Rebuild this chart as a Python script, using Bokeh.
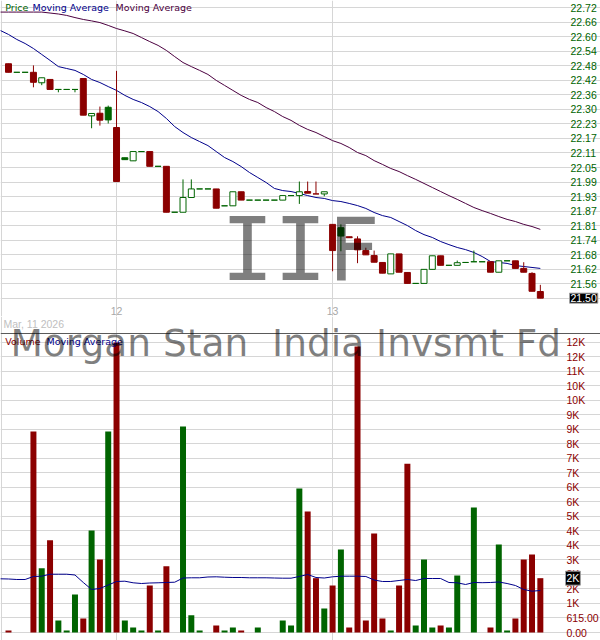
import numpy as np
from bokeh.plotting import figure
from bokeh.layouts import column
from bokeh.models import Range1d, FixedTicker, Label, Grid
from bokeh.embed import file_html
from bokeh.resources import INLINE

# ---------------- data (15-minute bars) ----------------
opens = [22.485, 22.449, 22.449, 22.449, 22.405, 22.419, 22.377, 22.377, 22.377, 22.423,
         22.266, 22.277, 22.302, 22.217, 22.090, 22.077, 22.116, 22.116, 22.054, 22.054,
         21.861, 21.861, 21.923, 21.959, 21.959, 21.959, 21.888, 21.888, 21.947, 21.912,
         21.912, 21.912, 21.912, 21.912, 21.931, 21.931, 21.948, 21.938, 21.938, 21.810,
         21.796, 21.758, 21.749, 21.700, 21.679, 21.650, 21.602, 21.686, 21.608, 21.562,
         21.562, 21.621, 21.678, 21.638, 21.638, 21.650, 21.653, 21.653, 21.653, 21.609,
         21.657, 21.657, 21.625, 21.604, 21.528]
closes = [22.449, 22.449, 22.449, 22.407, 22.426, 22.377, 22.377, 22.377, 22.377, 22.269,
          22.276, 22.248, 22.249, 21.990, 22.082, 22.116, 22.116, 22.054, 22.054, 21.861,
          21.861, 21.923, 21.959, 21.959, 21.959, 21.878, 21.888, 21.947, 21.912, 21.912,
          21.912, 21.912, 21.912, 21.931, 21.931, 21.947, 21.941, 21.938, 21.947, 21.700,
          21.761, 21.754, 21.703, 21.682, 21.651, 21.605, 21.686, 21.609, 21.562, 21.562,
          21.621, 21.678, 21.638, 21.638, 21.649, 21.650, 21.653, 21.653, 21.609, 21.657,
          21.657, 21.625, 21.609, 21.529, 21.500]
highs = [22.485, 22.449, 22.449, 22.478, 22.426, 22.419, 22.377, 22.377, 22.377, 22.423,
         22.276, 22.305, 22.309, 22.455, 22.090, 22.116, 22.116, 22.116, 22.054, 22.054,
         21.861, 21.999, 21.999, 21.959, 21.959, 21.959, 21.888, 21.947, 21.947, 21.912,
         21.912, 21.912, 21.912, 21.931, 21.931, 21.990, 21.990, 21.990, 21.947, 21.810,
         21.810, 21.758, 21.760, 21.712, 21.700, 21.650, 21.686, 21.686, 21.608, 21.562,
         21.621, 21.678, 21.678, 21.638, 21.658, 21.650, 21.700, 21.653, 21.653, 21.657,
         21.657, 21.657, 21.651, 21.609, 21.556]
lows = [22.449, 22.449, 22.449, 22.386, 22.395, 22.377, 22.365, 22.377, 22.365, 22.269,
        22.214, 22.225, 22.234, 21.990, 22.082, 22.077, 22.116, 22.054, 22.054, 21.861,
        21.861, 21.861, 21.923, 21.959, 21.959, 21.878, 21.888, 21.888, 21.912, 21.912,
        21.912, 21.912, 21.912, 21.912, 21.931, 21.896, 21.941, 21.938, 21.928, 21.613,
        21.697, 21.754, 21.647, 21.682, 21.651, 21.605, 21.602, 21.609, 21.562, 21.562,
        21.562, 21.621, 21.638, 21.638, 21.638, 21.650, 21.653, 21.653, 21.609, 21.609,
        21.657, 21.625, 21.609, 21.529, 21.500]
prior_close = 22.50

volumes = [85, 0, 0, 8524, 2728, 3915, 509, 85, 1612, 594,
           4326, 3096, 8524, 12300, 509, 212, 85, 1993, 85, 2812,
           0, 8736, 734, 85, 0, 297, 85, 212, 85, 0,
           212, 0, 0, 509, 297, 6107, 5132, 2304, 1018, 1993,
           3520, 212, 12129, 509, 4199, 594, 85, 1993, 7155, 297,
           3096, 212, 297, 212, 2417, 0, 5301, 0, 212, 3732,
           85, 594, 3096, 3308, 2304]

# moving averages start one bar before the first visible candle
ma_fast = [22.625, 22.608, 22.587, 22.570, 22.549, 22.524, 22.499, 22.473, 22.465, 22.457,
           22.440, 22.419, 22.406, 22.389, 22.373, 22.352, 22.335, 22.322, 22.305, 22.284,
           22.255, 22.221, 22.196, 22.175, 22.158, 22.141, 22.116, 22.091, 22.074, 22.053,
           22.028, 22.007, 21.986, 21.961, 21.952, 21.948, 21.940, 21.931, 21.923, 21.919,
           21.910, 21.906, 21.898, 21.889, 21.877, 21.860, 21.847, 21.839, 21.822, 21.805,
           21.784, 21.767, 21.755, 21.738, 21.725, 21.713, 21.704, 21.692, 21.675, 21.654,
           21.650, 21.646, 21.637, 21.633, 21.629, 21.625]
ma_slow = [22.702, 22.702, 22.702, 22.702, 22.702, 22.702, 22.698, 22.694, 22.688, 22.679,
           22.671, 22.665, 22.658, 22.646, 22.633, 22.623, 22.612, 22.595, 22.578, 22.562,
           22.541, 22.515, 22.490, 22.473, 22.457, 22.440, 22.415, 22.394, 22.373, 22.352,
           22.335, 22.322, 22.301, 22.284, 22.263, 22.247, 22.226, 22.209, 22.196, 22.179,
           22.162, 22.150, 22.133, 22.112, 22.099, 22.078, 22.062, 22.045, 22.032, 22.015,
           21.999, 21.982, 21.965, 21.948, 21.931, 21.915, 21.898, 21.881, 21.868, 21.856,
           21.843, 21.831, 21.822, 21.810, 21.801, 21.789]
vol_ma = [2277, 2269, 2248, 2248, 2375, 2388, 2472, 2472, 2472, 2439,
          2121, 1824, 1866, 2014, 2163, 2176, 2108, 2078, 2099, 2108,
          2121, 2133, 2311, 2320, 2320, 2354, 2362, 2345, 2333, 2333,
          2320, 2320, 2320, 2311, 2303, 2303, 2375, 2460, 2333, 2311,
          2362, 2388, 2388, 2388, 2375, 2226, 2163, 2163, 2205, 2248,
          2205, 2290, 2290, 2290, 2121, 2108, 2036, 2121, 2112, 2121,
          2142, 2078, 1993, 1824, 1752, 1781]

session_starts = [13, 39]
session_labels = ["12", "13"]
date_label = "Mar, 11 2026"
price_tick_labels = ["21.50", "21.56", "21.62", "21.68", "21.74", "21.81", "21.87", "21.93",
                     "21.99", "22.05", "22.11", "22.17", "22.23", "22.30", "22.36", "22.42",
                     "22.48", "22.54", "22.60", "22.66", "22.72"]
vol_tick_step = 615.0
vol_tick_labels = ["0.00", "615.00", "1K", "2K", "2K", "3K", "4K", "4K", "5K", "6K", "6K",
                   "7K", "7K", "8K", "9K", "9K", "10K", "10K", "11K", "12K", "12K"]
ticker_symbol = "IIF"
company_name = "Morgan Stan \u00a0India Invsmt Fd"

# ---------------- styling / layout ----------------
RED = "#8b0000"
GREEN = "#006400"
BLUE = "#00008b"
PURPLE = "#4b0040"
GRID = "#d6d6d6"
AXFONT = "Liberation Sans"
AXSIZE = "10.5px"

W = 600
P_H = 316          # price panel: page y 0..316
V_H = 324          # volume panel: page y 316..640
BAR_PX = 8.31      # pixels per 15-minute bar
X0_PX = 8.0        # pixel of first bar
PRICE_PX = 238.0   # pixels per 1.00 of price
P_HI = 22.7507     # price at page top
VOL_PER_PX = 42.41
VOL_ZERO_PY = 632.0
CHART_R = 541      # right edge of chart area
LABEL_X = 570      # price axis labels start
VLABEL_X = 566     # volume axis labels start


def xd(px):
    return (px - X0_PX) / BAR_PX


def yp(py):
    return P_HI - py / PRICE_PX


def yv(py):
    return (VOL_ZERO_PY - py) * VOL_PER_PX


XS, XE = xd(0), xd(W)

idx = list(range(len(opens)))
ma_x = list(range(-1, len(opens)))
colors = []
prev = prior_close
for c in closes:
    colors.append(RED if c < prev else GREEN)
    prev = c
fills = [col if c < o else "white" for o, c, col in zip(opens, closes, colors)]
tops = [max(o, c) for o, c in zip(opens, closes)]
bots = [min(o, c) for o, c in zip(opens, closes)]

price_ticks = [float(t) for t in np.linspace(float(price_tick_labels[0]),
                                             float(price_tick_labels[-1]),
                                             len(price_tick_labels))]
vol_ticks = [k * vol_tick_step for k in range(len(vol_tick_labels))]

x_range = Range1d(XS, XE)


def style_axis(ax, color, standoff):
    ax.axis_line_color = None
    ax.major_tick_line_color = None
    ax.minor_tick_line_color = None
    ax.major_tick_out = 0
    ax.major_tick_in = 0
    ax.major_label_text_font = AXFONT
    ax.major_label_text_font_size = AXSIZE
    ax.major_label_text_color = color
    ax.major_label_standoff = standoff


# ---------------- price panel ----------------
p = figure(width=W, height=P_H, x_range=x_range, y_range=Range1d(yp(P_H), P_HI),
           output_backend="svg", toolbar_location=None, y_axis_location="right",
           min_border=0, min_border_left=0, min_border_right=0, min_border_top=0,
           min_border_bottom=0, outline_line_color=None,
           background_fill_color="white", border_fill_color="white")

p.xgrid.ticker = FixedTicker(ticks=session_starts)
p.xgrid.bounds = (yp(303), P_HI)
p.ygrid.ticker = FixedTicker(ticks=price_ticks)
p.ygrid.bounds = (XS, xd(CHART_R))
for g in (p.xgrid, p.ygrid):
    g.grid_line_color = GRID
    g.grid_line_width = 1
p.add_layout(Grid(dimension=0, ticker=FixedTicker(ticks=[xd(0.5)]), bounds=(yp(303), P_HI),
                  grid_line_color=GRID, grid_line_width=1))

p.yaxis.ticker = FixedTicker(ticks=price_ticks)
p.yaxis.major_label_overrides = {t: l for t, l in zip(price_ticks, price_tick_labels)}
p.yaxis.fixed_location = xd(CHART_R)
style_axis(p.yaxis, GREEN, LABEL_X - CHART_R)
p.xaxis.ticker = FixedTicker(ticks=session_starts)
p.xaxis.major_label_overrides = {t: l for t, l in zip(session_starts, session_labels)}
p.xaxis.fixed_location = yp(303)
style_axis(p.xaxis, "#a8a8a8", 3)

p.line(ma_x, ma_slow, line_color=PURPLE, line_width=1)
p.line(ma_x, ma_fast, line_color=BLUE, line_width=1)
p.segment(x0=idx, y0=lows, x1=idx, y1=highs, line_color=colors, line_width=1)
p.vbar(x=idx, top=tops, bottom=bots, width=0.72, fill_color=fills, line_color=colors,
       line_width=1)

for txt, px, col in (("Price", 4.7, GREEN), ("Moving Average", 32, BLUE),
                     ("Moving Average", 115, PURPLE)):
    p.add_layout(Label(x=xd(px), y=yp(6.8), text=txt, text_color=col,
                       text_font="DejaVu Sans", text_font_size="9.5px",
                       text_baseline="middle", text_align="left"))

p.add_layout(Label(x=xd(300), y=yp(249), text=ticker_symbol, text_font="DejaVu Sans Mono",
                   text_font_size="88px", text_color="black", text_alpha=0.5,
                   text_align="center", text_baseline="middle"))

p.add_layout(Label(x=xd(LABEL_X - 1), y=closes[-1], text=f"{closes[-1]:.2f}",
                   text_color="white", background_fill_color="black",
                   border_line_color="#a0a0a0", text_font=AXFONT, text_font_size=AXSIZE,
                   text_baseline="middle", text_align="left", padding=1))

# ---------------- volume panel ----------------
v = figure(width=W, height=V_H, x_range=x_range, y_range=Range1d(yv(640), yv(316)),
           output_backend="svg", toolbar_location=None, y_axis_location="right",
           x_axis_location=None, min_border=0, min_border_left=0, min_border_right=0,
           min_border_top=0, min_border_bottom=0, outline_line_color=None,
           background_fill_color="white", border_fill_color="white")

v.xgrid.ticker = FixedTicker(ticks=session_starts)
v.xgrid.bounds = (yv(640), yv(332))
v.ygrid.ticker = FixedTicker(ticks=vol_ticks)
v.ygrid.bounds = (XS, xd(CHART_R))
for g in (v.xgrid, v.ygrid):
    g.grid_line_color = GRID
    g.grid_line_width = 1
v.add_layout(Grid(dimension=0, ticker=FixedTicker(ticks=[xd(0.5)]), bounds=(yv(640), yv(332)),
                  grid_line_color=GRID, grid_line_width=1))

v.yaxis.ticker = FixedTicker(ticks=vol_ticks)
v.yaxis.major_label_overrides = {t: l for t, l in zip(vol_ticks, vol_tick_labels)}
v.yaxis.fixed_location = xd(CHART_R)
style_axis(v.yaxis, RED, VLABEL_X - CHART_R)

v.vbar(x=idx, top=volumes, bottom=0, width=0.72, fill_color=colors, line_color=None)
v.line(ma_x, vol_ma, line_color=BLUE, line_width=1)

# panel separator
v.add_layout(Grid(dimension=1, ticker=FixedTicker(ticks=[yv(332.5)]), bounds=(XS, xd(539)),
                  grid_line_color="#5a5a5a", grid_line_width=1))

v.add_layout(Label(x=xd(3), y=yv(323.5), text=date_label, text_color="#c0c0c0",
                   text_font=AXFONT, text_font_size=AXSIZE, text_baseline="middle",
                   text_align="left"))
for txt, px, col in (("Volume", 4.7, RED), ("Moving Average", 46, BLUE)):
    v.add_layout(Label(x=xd(px), y=yv(340.5), text=txt, text_color=col,
                       text_font="DejaVu Sans", text_font_size="9.5px",
                       text_baseline="middle", text_align="left"))

v.add_layout(Label(x=xd(10), y=yv(342), text=company_name, text_font="DejaVu Sans",
                   text_font_size="37.5px", text_color="black", text_alpha=0.5,
                   text_align="left", text_baseline="middle"))

last_vol = volumes[-1]
v.add_layout(Label(x=xd(VLABEL_X - 1), y=last_vol, text=f"{round(last_vol / 1000)}K",
                   text_color="white", background_fill_color="black",
                   border_line_color="#a0a0a0", text_font=AXFONT, text_font_size=AXSIZE,
                   text_baseline="middle", text_align="left", padding=1))

layout = column(p, v, spacing=0)
open("out.html", "w").write(file_html(layout, INLINE))
